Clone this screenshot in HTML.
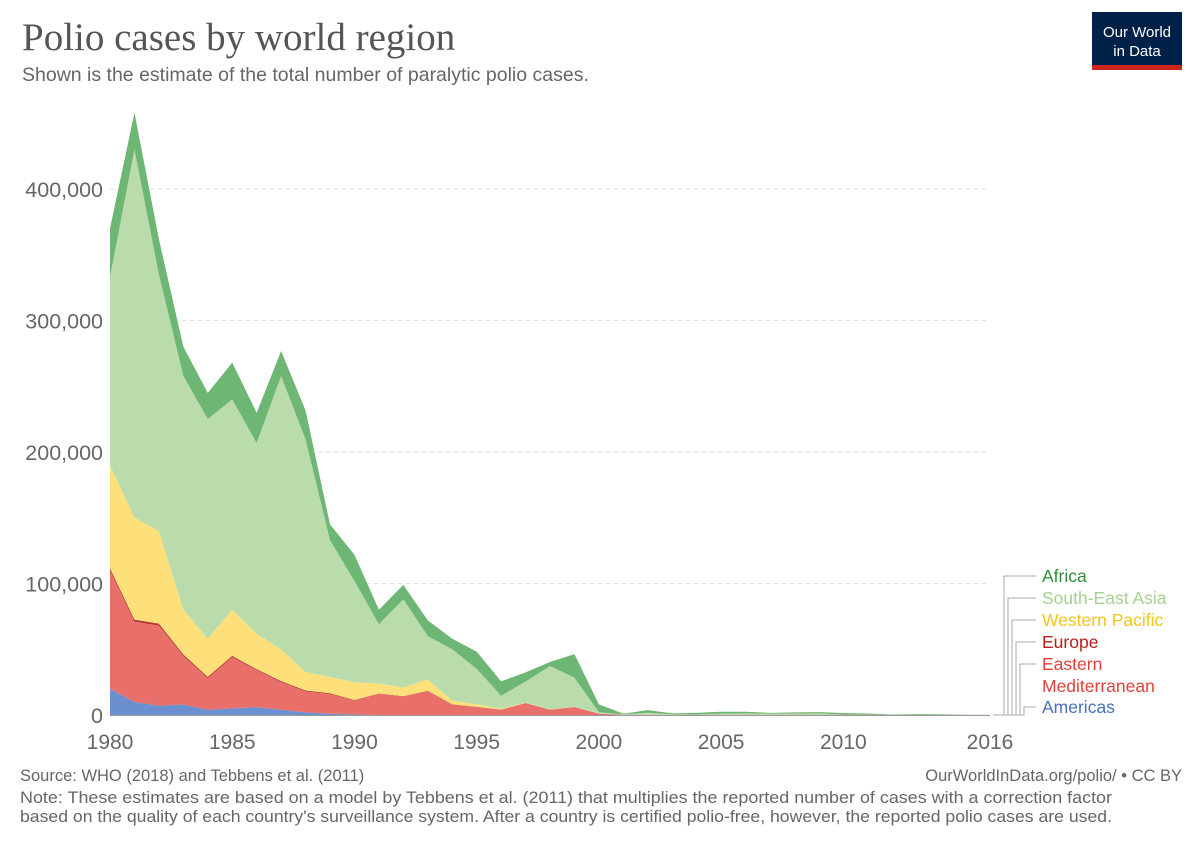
<!DOCTYPE html>
<html><head><meta charset="utf-8"><style>
body{margin:0;background:#fff;width:1200px;height:847px;overflow:hidden;font-family:"Liberation Sans",sans-serif}
</style></head><body>
<svg width="1200" height="847">
<text x="22" y="50" font-family="Liberation Serif,serif" font-size="39" fill="#555">Polio cases by world region</text>
<text x="22" y="81" font-size="19.5" fill="#666">Shown is the estimate of the total number of paralytic polio cases.</text>
<g>
<rect x="1092" y="12" width="90" height="58" fill="#002147"/>
<rect x="1092" y="65" width="90" height="5" fill="#ce261e"/>
<text x="1137" y="37" font-size="15" fill="#fff" text-anchor="middle">Our World</text>
<text x="1137" y="56" font-size="15" fill="#fff" text-anchor="middle">in Data</text>
</g>
<g id="grid"></g>
<g id="areas"></g>
<g id="axes"></g>
<g id="legend"></g>
<text x="20" y="781" font-size="16.5" fill="#666">Source: WHO (2018) and Tebbens et al. (2011)</text>
<text x="1182" y="781" font-size="16.5" fill="#666" text-anchor="end">OurWorldInData.org/polio/ • CC BY</text>
<text x="20" y="803" font-size="16.5" fill="#666" textLength="1092" lengthAdjust="spacingAndGlyphs">Note: These estimates are based on a model by Tebbens et al. (2011) that multiplies the reported number of cases with a correction factor</text>
<text x="20" y="822" font-size="16.5" fill="#666" textLength="1092" lengthAdjust="spacingAndGlyphs">based on the quality of each country's surveillance system. After a country is certified polio-free, however, the reported polio cases are used.</text>
</svg>
<script>
const years=[];for(let y=1980;y<=2016;y++)years.push(y);
const americas=[20,10,7,8,4,5,6,4,2,1,0.5,0,0,0,0,0,0,0,0,0,0,0,0,0,0,0,0,0,0,0,0,0,0,0,0,0,0];
const easternMed=[90,61,61,37,24,39,28,21,16,15,10.5,16,14,18,8,6,4,9,4,6,1,0.2,0.2,0.2,0.2,0.2,0.2,0.2,0.2,0.2,0.2,0.2,0.1,0.1,0.1,0.05,0.02];
const europe=[1.5,1.5,1.5,1,1,1,0.8,0.8,0.6,0.5,0.4,0.3,0.3,0.3,0.2,0.2,0.1,0.1,0.1,0.1,0,0,0,0,0,0,0,0,0,0,0,0,0,0,0,0,0];
const westernPacific=[78.5,77.5,70.5,34,29,35,27,24,14,12.5,13.5,7.7,6.7,8.7,2.8,2,0.5,0.3,0.2,0.2,0.1,0,0,0,0,0,0,0,0,0,0,0,0,0,0,0,0];
const southEastAsia=[143,280,195,178,167,160,145,208,177,104,77,45,67,33,39,27,10,16,33,22,1,0.3,1.5,0.3,0.2,0.8,1,0.8,0.8,1,0.1,0.1,0,0,0,0,0];
const africa=[37,28,27,22,20,28,23,19,22,12,20,11,11,12,8,13,11,7,3,18,6,0.5,2,0.7,1.2,1.5,1.3,0.6,1,1,1.2,0.8,0.3,0.6,0.5,0.1,0.05];
const yTicks=[0,100000,200000,300000,400000];
const yTickLabels=["0","100,000","200,000","300,000","400,000"];
const xTicks=[1980,1985,1990,1995,2000,2005,2010,2016];
const NS='http://www.w3.org/2000/svg';
const x=v=>110+(v-1980)*(880/36);
const y=v=>715-v*131.5/100000;
function mk(p,t,a){const e=document.createElementNS(NS,t);for(const k in a)e.setAttribute(k,a[k]);p.appendChild(e);return e;}
const grid=document.getElementById('grid'),axes=document.getElementById('axes'),areas=document.getElementById('areas'),leg=document.getElementById('legend');
yTicks.forEach((t,i)=>{
 if(t>0){const l=mk(grid,'line',{x1:110,x2:990,y1:y(t),y2:y(t),stroke:'#ddd','stroke-dasharray':'4,4'});
 
 }
 const tx=mk(axes,'text',{x:103,y:y(t)+8,'font-size':21.5,fill:'#666','text-anchor':'end'});tx.textContent=yTickLabels[i];
 
 
});
xTicks.forEach(t=>{
 const tx=mk(axes,'text',{x:x(t),y:749,'font-size':21,fill:'#666','text-anchor':'middle'});tx.textContent=t;
 
 
});
const series=[
 {name:'americas',d:americas,c:'#6b8fcf'},
 {name:'eastern-mediterranean',d:easternMed,c:'#e9706a'},
 {name:'europe',d:europe,c:'#b8332b'},
 {name:'western-pacific',d:westernPacific,c:'#fde07a'},
 {name:'south-east-asia',d:southEastAsia,c:'#badcac'},
 {name:'africa',d:africa,c:'#6db673'}];
let base=years.map(()=>0);
series.forEach(s=>{
 const top=base.map((b,i)=>b+s.d[i]*1000);
 let p='M'+years.map((yr,i)=>x(yr)+','+y(top[i])).join('L');
 for(let i=years.length-1;i>=0;i--)p+='L'+x(years[i])+','+y(base[i]);
 const e=mk(areas,'path',{d:p+'Z',fill:s.c});
 
 
 base=top;
});
mk(axes,'line',{x1:110,x2:990,y1:715.5,y2:715.5,stroke:'#999'});
const legItems=[['Africa','#2f8f3a',582],['South-East Asia','#a5d192',604],['Western Pacific','#f5c518',626],['Europe','#b8201a',648],['Eastern','#e0423a',670],['Mediterranean','#e0423a',692],['Americas','#4a6fbf',713]];
const lx=[1004,1008,1012,1016,1020,1024,1028];
legItems.forEach((it,i)=>{
 if(it[0]!=='Mediterranean'){const k=i>4?i-1:i;
 const pl=mk(leg,'polyline',{points:`993,715 ${lx[k]},715 ${lx[k]},${it[2]-6} 1036,${it[2]-6}`,fill:'none',stroke:'#aaa','stroke-width':1});
 
 }
 const t=mk(leg,'text',{x:1042,y:it[2],'font-size':17.5,fill:it[1]});t.textContent=it[0];
 
 
});
</script>
</body></html>
